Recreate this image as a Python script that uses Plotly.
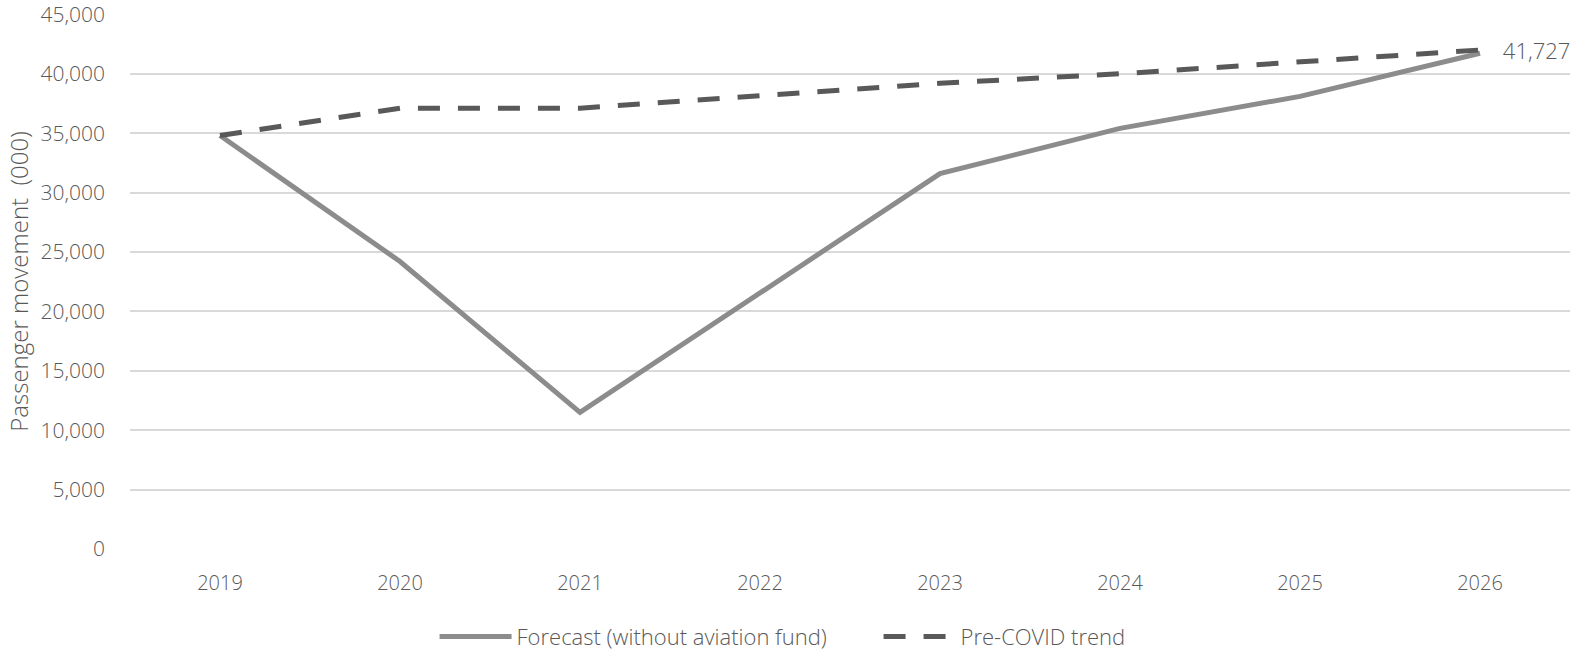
import plotly.graph_objects as go

years = ["2019", "2020", "2021", "2022", "2023", "2024", "2025", "2026"]
forecast = [34800, 24200, 11500, 21600, 31600, 35400, 38100, 41727]
pre_covid = [34800, 37100, 37100, 38200, 39200, 40000, 41000, 42000]

text_color = "#595959"
font_family = "Open Sans, Segoe UI, sans-serif"

# only the final forecast point carries its value label
end_labels = [""] * (len(forecast) - 1) + ["    " + f"{forecast[-1]:,}"]

fig = go.Figure()
fig.add_trace(go.Scatter(
    x=years, y=forecast, mode="lines+text",
    name="Forecast (without aviation fund)",
    line=dict(color="#8c8c8c", width=5),
    text=end_labels, textposition="middle right",
    textfont=dict(size=22, color=text_color, family=font_family, weight=300),
    cliponaxis=False,
))
fig.add_trace(go.Scatter(
    x=years, y=pre_covid, mode="lines",
    name="Pre-COVID trend",
    line=dict(color="#595959", width=5, dash="22px,18px"),
))

fig.update_layout(
    width=1574, height=653,
    margin=dict(l=130, r=4, t=14, b=104, autoexpand=False),
    paper_bgcolor="white", plot_bgcolor="white",
    font=dict(family=font_family, color=text_color, size=20, weight=300),
    showlegend=True,
    legend=dict(
        orientation="h", x=0.2115, xanchor="left",
        yref="container", y=0.025, yanchor="middle",
        font=dict(size=22, color=text_color, family=font_family, weight=300),
        tracegroupgap=0, itemwidth=72, entrywidth=357,
    ),
    xaxis=dict(
        type="category", range=[-0.5, 7.5],
        showgrid=False, zeroline=False, showline=False,
        ticks="", ticklabelstandoff=20,
        tickfont=dict(size=20, color=text_color),
    ),
    yaxis=dict(
        range=[0, 45030], tickvals=list(range(0, 45001, 5000)), tickformat=",",
        showgrid=True, gridcolor="#d9d9d9", gridwidth=1.5,
        zeroline=False, showline=False, ticks="",
        ticklabelstandoff=24, ticklabeloverflow="allow",
        tickfont=dict(size=21, color=text_color),
        title=dict(text="Passenger movement  (000)", standoff=5,
                   font=dict(size=24, color=text_color)),
    ),
)

fig.write_html("out.html")
